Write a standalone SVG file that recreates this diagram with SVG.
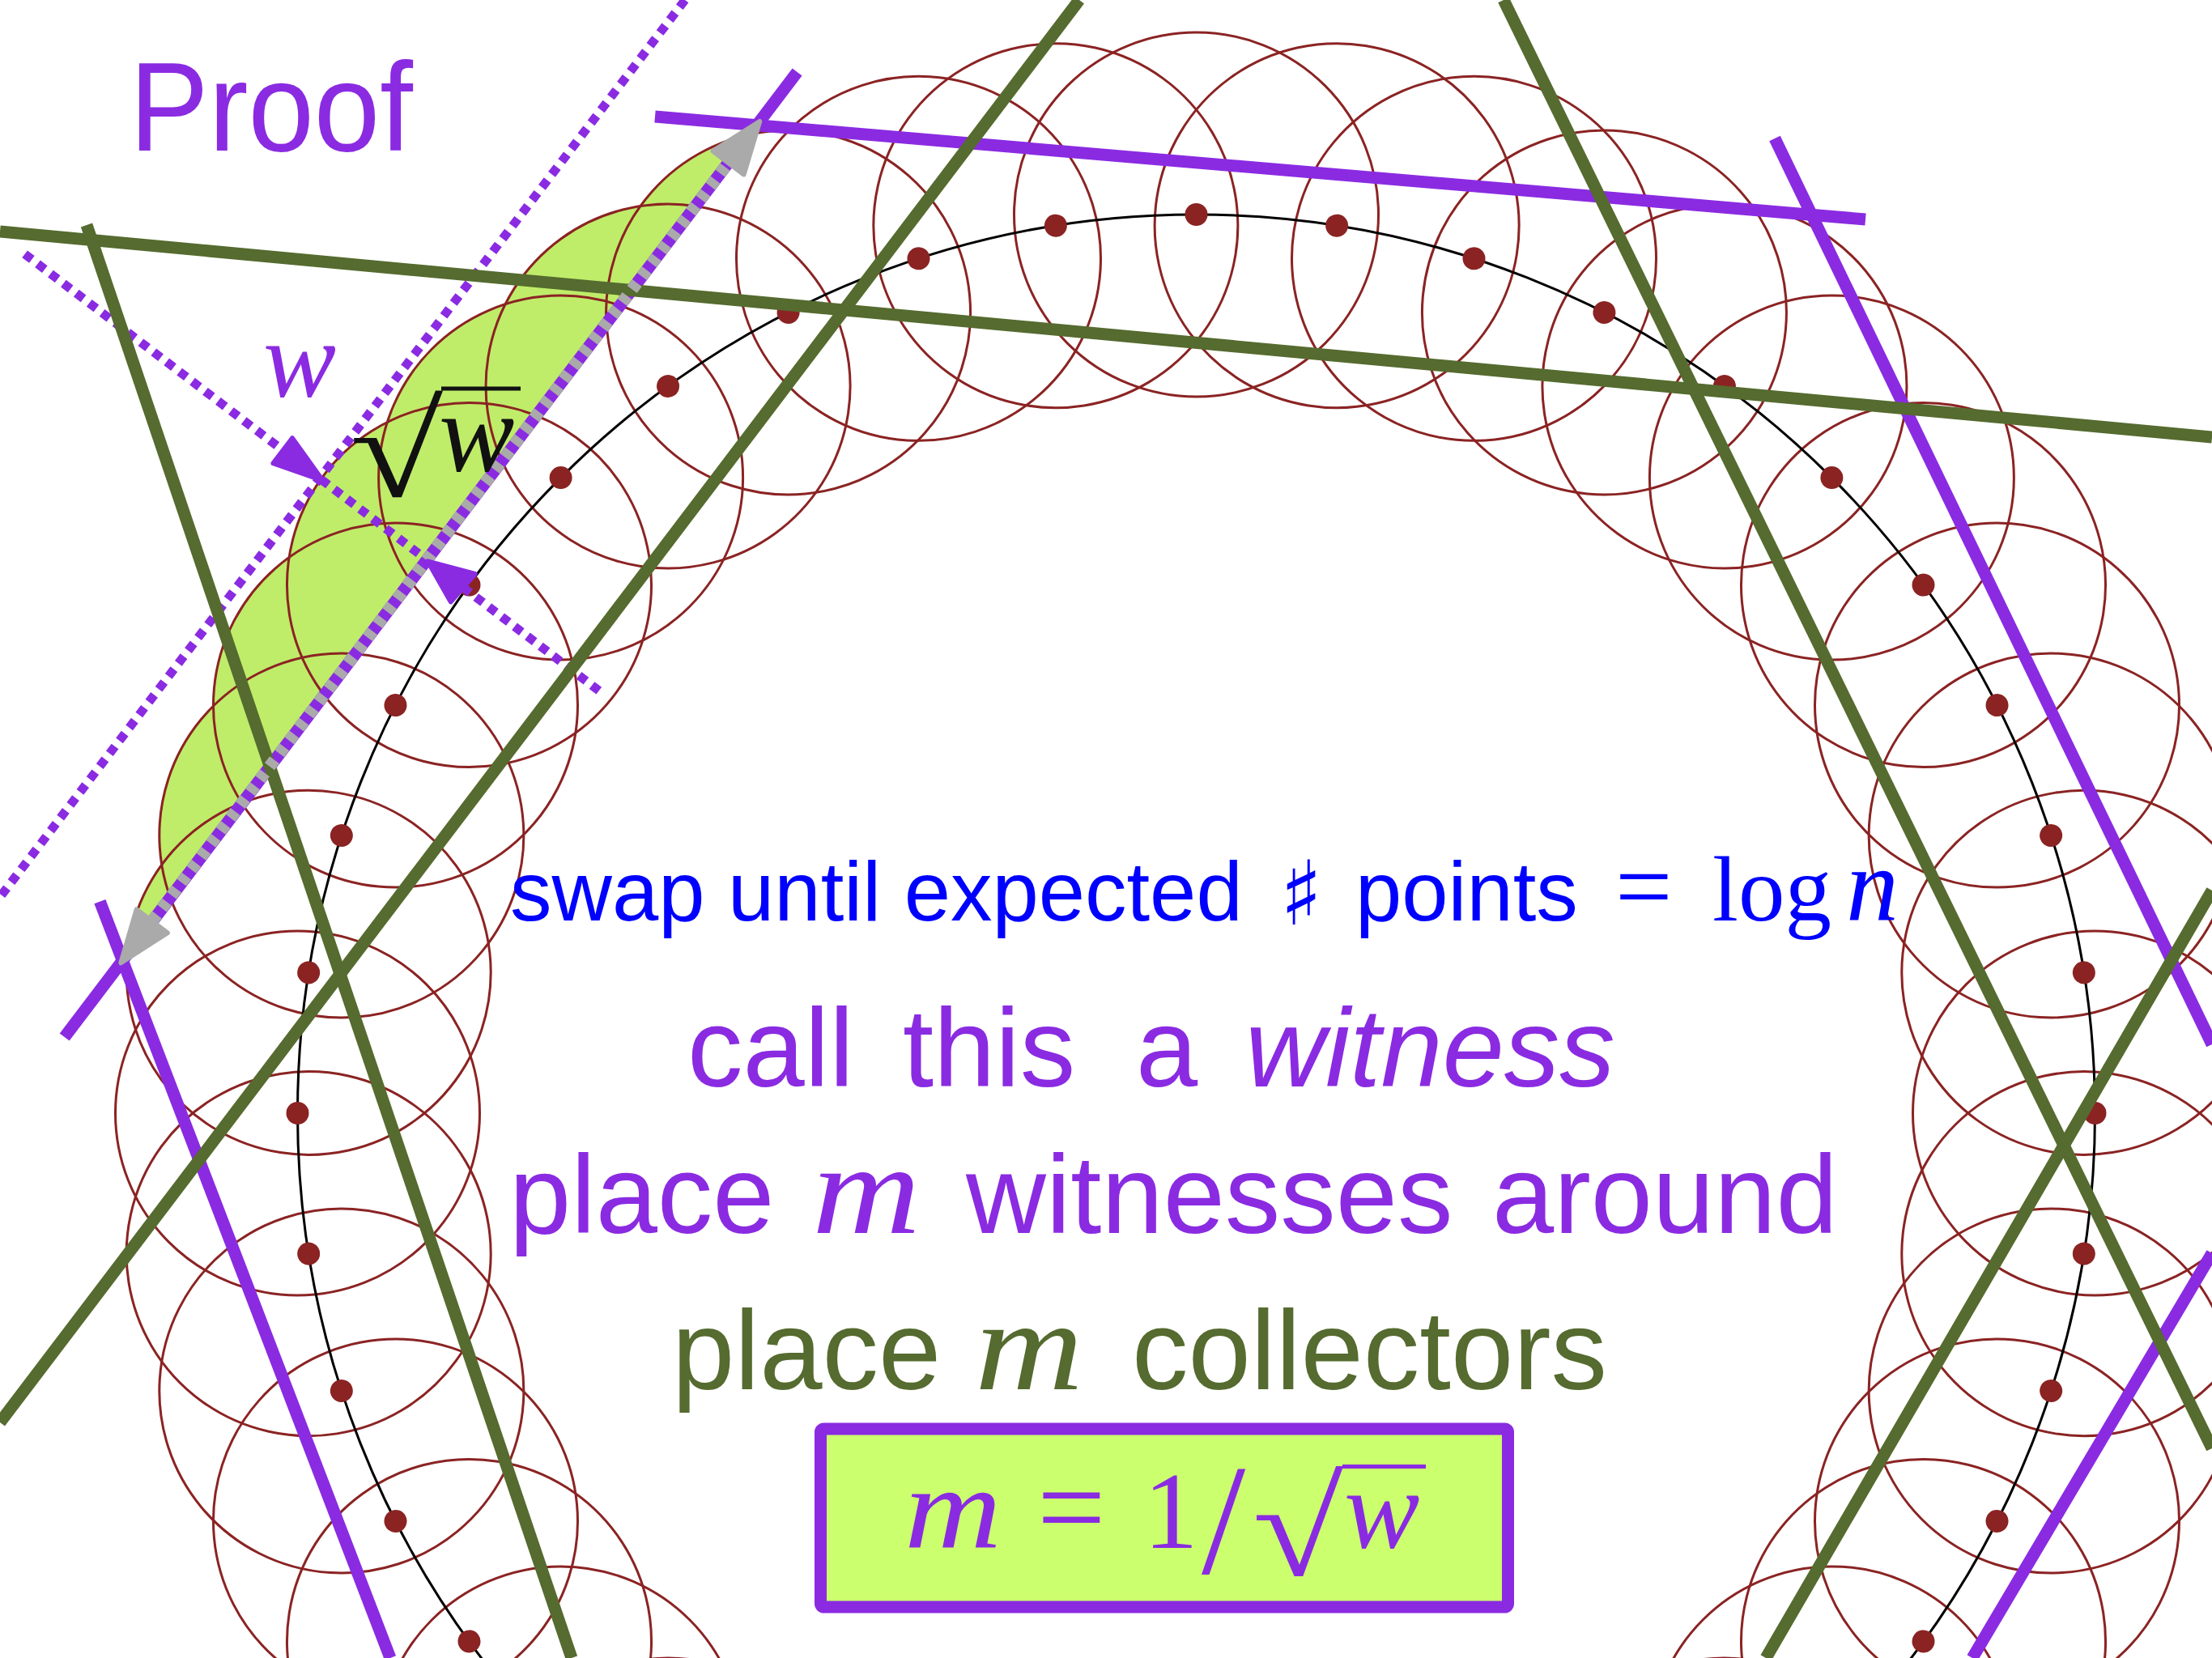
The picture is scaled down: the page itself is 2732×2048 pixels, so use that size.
<svg xmlns="http://www.w3.org/2000/svg" xmlns:xlink="http://www.w3.org/1999/xlink" width="2732" height="2048" viewBox="0 0 2732 2048">
<style>
.ring{fill:none;stroke:#8b2323;stroke-width:3}
.dot{fill:#8b2323}
.gf{fill:#bfed6a}
.ol{stroke:#556b2f;stroke-width:15;fill:none}
.pu{stroke:#8a2be2;stroke-width:15;fill:none}
.pd{stroke:#8a2be2;stroke-width:11;stroke-dasharray:11 9;fill:none}
.sans{font-family:"Liberation Sans",Arial,sans-serif}
.ser{font-family:"Liberation Serif","Times New Roman",serif}
.it{font-style:italic}
</style>
<defs>
<clipPath id="half"><polygon points="-1060,2782 2147,-1443 -242,-3257 -3449,968"/></clipPath>
<circle id="sc" cx="1477.5" cy="265" r="225"/>
<circle id="sd" cx="1477.5" cy="265" r="14"/>
</defs>
<rect width="2732" height="2048" fill="#ffffff"/>
<g id="witness-fill" clip-path="url(#half)" class="gf">
<use xlink:href="#sc" transform="rotate(-18 1477.5 1375)"/>
<use xlink:href="#sc" transform="rotate(-27 1477.5 1375)"/>
<use xlink:href="#sc" transform="rotate(-36 1477.5 1375)"/>
<use xlink:href="#sc" transform="rotate(-45 1477.5 1375)"/>
<use xlink:href="#sc" transform="rotate(-54 1477.5 1375)"/>
<use xlink:href="#sc" transform="rotate(-63 1477.5 1375)"/>
<use xlink:href="#sc" transform="rotate(-72 1477.5 1375)"/>
<use xlink:href="#sc" transform="rotate(-81 1477.5 1375)"/>
<use xlink:href="#sc" transform="rotate(-90 1477.5 1375)"/>
</g>
<g id="rings" class="ring">
<use xlink:href="#sc" transform="rotate(0 1477.5 1375)"/>
<use xlink:href="#sc" transform="rotate(9 1477.5 1375)"/>
<use xlink:href="#sc" transform="rotate(18 1477.5 1375)"/>
<use xlink:href="#sc" transform="rotate(27 1477.5 1375)"/>
<use xlink:href="#sc" transform="rotate(36 1477.5 1375)"/>
<use xlink:href="#sc" transform="rotate(45 1477.5 1375)"/>
<use xlink:href="#sc" transform="rotate(54 1477.5 1375)"/>
<use xlink:href="#sc" transform="rotate(63 1477.5 1375)"/>
<use xlink:href="#sc" transform="rotate(72 1477.5 1375)"/>
<use xlink:href="#sc" transform="rotate(81 1477.5 1375)"/>
<use xlink:href="#sc" transform="rotate(90 1477.5 1375)"/>
<use xlink:href="#sc" transform="rotate(99 1477.5 1375)"/>
<use xlink:href="#sc" transform="rotate(108 1477.5 1375)"/>
<use xlink:href="#sc" transform="rotate(117 1477.5 1375)"/>
<use xlink:href="#sc" transform="rotate(126 1477.5 1375)"/>
<use xlink:href="#sc" transform="rotate(135 1477.5 1375)"/>
<use xlink:href="#sc" transform="rotate(144 1477.5 1375)"/>
<use xlink:href="#sc" transform="rotate(153 1477.5 1375)"/>
<use xlink:href="#sc" transform="rotate(162 1477.5 1375)"/>
<use xlink:href="#sc" transform="rotate(171 1477.5 1375)"/>
<use xlink:href="#sc" transform="rotate(180 1477.5 1375)"/>
<use xlink:href="#sc" transform="rotate(189 1477.5 1375)"/>
<use xlink:href="#sc" transform="rotate(198 1477.5 1375)"/>
<use xlink:href="#sc" transform="rotate(207 1477.5 1375)"/>
<use xlink:href="#sc" transform="rotate(216 1477.5 1375)"/>
<use xlink:href="#sc" transform="rotate(225 1477.5 1375)"/>
<use xlink:href="#sc" transform="rotate(234 1477.5 1375)"/>
<use xlink:href="#sc" transform="rotate(243 1477.5 1375)"/>
<use xlink:href="#sc" transform="rotate(252 1477.5 1375)"/>
<use xlink:href="#sc" transform="rotate(261 1477.5 1375)"/>
<use xlink:href="#sc" transform="rotate(270 1477.5 1375)"/>
<use xlink:href="#sc" transform="rotate(279 1477.5 1375)"/>
<use xlink:href="#sc" transform="rotate(288 1477.5 1375)"/>
<use xlink:href="#sc" transform="rotate(297 1477.5 1375)"/>
<use xlink:href="#sc" transform="rotate(306 1477.5 1375)"/>
<use xlink:href="#sc" transform="rotate(315 1477.5 1375)"/>
<use xlink:href="#sc" transform="rotate(324 1477.5 1375)"/>
<use xlink:href="#sc" transform="rotate(333 1477.5 1375)"/>
<use xlink:href="#sc" transform="rotate(342 1477.5 1375)"/>
<use xlink:href="#sc" transform="rotate(351 1477.5 1375)"/>
</g>
<circle id="track" cx="1477.5" cy="1375" r="1110" fill="none" stroke="#000000" stroke-width="3"/>
<g id="dots" class="dot">
<use xlink:href="#sd" transform="rotate(0 1477.5 1375)"/>
<use xlink:href="#sd" transform="rotate(9 1477.5 1375)"/>
<use xlink:href="#sd" transform="rotate(18 1477.5 1375)"/>
<use xlink:href="#sd" transform="rotate(27 1477.5 1375)"/>
<use xlink:href="#sd" transform="rotate(36 1477.5 1375)"/>
<use xlink:href="#sd" transform="rotate(45 1477.5 1375)"/>
<use xlink:href="#sd" transform="rotate(54 1477.5 1375)"/>
<use xlink:href="#sd" transform="rotate(63 1477.5 1375)"/>
<use xlink:href="#sd" transform="rotate(72 1477.5 1375)"/>
<use xlink:href="#sd" transform="rotate(81 1477.5 1375)"/>
<use xlink:href="#sd" transform="rotate(90 1477.5 1375)"/>
<use xlink:href="#sd" transform="rotate(99 1477.5 1375)"/>
<use xlink:href="#sd" transform="rotate(108 1477.5 1375)"/>
<use xlink:href="#sd" transform="rotate(117 1477.5 1375)"/>
<use xlink:href="#sd" transform="rotate(126 1477.5 1375)"/>
<use xlink:href="#sd" transform="rotate(135 1477.5 1375)"/>
<use xlink:href="#sd" transform="rotate(144 1477.5 1375)"/>
<use xlink:href="#sd" transform="rotate(216 1477.5 1375)"/>
<use xlink:href="#sd" transform="rotate(225 1477.5 1375)"/>
<use xlink:href="#sd" transform="rotate(234 1477.5 1375)"/>
<use xlink:href="#sd" transform="rotate(243 1477.5 1375)"/>
<use xlink:href="#sd" transform="rotate(252 1477.5 1375)"/>
<use xlink:href="#sd" transform="rotate(261 1477.5 1375)"/>
<use xlink:href="#sd" transform="rotate(270 1477.5 1375)"/>
<use xlink:href="#sd" transform="rotate(279 1477.5 1375)"/>
<use xlink:href="#sd" transform="rotate(288 1477.5 1375)"/>
<use xlink:href="#sd" transform="rotate(297 1477.5 1375)"/>
<use xlink:href="#sd" transform="rotate(306 1477.5 1375)"/>
<use xlink:href="#sd" transform="rotate(315 1477.5 1375)"/>
<use xlink:href="#sd" transform="rotate(324 1477.5 1375)"/>
<use xlink:href="#sd" transform="rotate(333 1477.5 1375)"/>
<use xlink:href="#sd" transform="rotate(342 1477.5 1375)"/>
<use xlink:href="#sd" transform="rotate(351 1477.5 1375)"/>
</g>
<g id="connectors">
<line class="pd" x1="846" y1="0" x2="0" y2="1108"/>
<line class="pd" x1="30.6" y1="313.8" x2="740.5" y2="853.7"/>
<line class="pu" x1="809" y1="144" x2="2304" y2="271"/>
<line class="pu" x1="2192" y1="171" x2="2732" y2="1290"/>
<line class="pu" x1="123.4" y1="1113.6" x2="482" y2="2048"/>
<line class="pu" x1="79.7" y1="1281" x2="984.6" y2="89"/>
<line class="pu" x1="2732" y1="1548" x2="2436" y2="2048"/>
<line class="ol" x1="0" y1="286" x2="2732" y2="540"/>
<line class="ol" x1="107" y1="278" x2="706" y2="2048"/>
<line class="ol" x1="1333" y1="0" x2="0" y2="1757"/>
<line class="ol" x1="1857" y1="0" x2="2732" y2="1789"/>
<line class="ol" x1="2732" y1="1100" x2="2181" y2="2048"/>
<line x1="187.8" y1="1137.8" x2="899.6" y2="201" stroke="#aaaaaa" stroke-width="15" stroke-dasharray="10 10"/>
<polygon points="149.3,1189.3 168.7,1123.3 206.9,1152.3" fill="#aaaaaa" stroke="#aaaaaa" stroke-width="6" stroke-linejoin="round"/>
<polygon points="938.3,150 918.7,215.5 880.5,186.5" fill="#aaaaaa" stroke="#aaaaaa" stroke-width="6" stroke-linejoin="round"/>
<polygon points="398.3,593.3 337.4,572.2 361,541.2" fill="#8a2be2" stroke="#8a2be2" stroke-width="6" stroke-linejoin="round"/>
<polygon points="528.3,693.3 556.7,743.3 586.7,709" fill="#8a2be2" stroke="#8a2be2" stroke-width="6" stroke-linejoin="round"/>
</g>
<g id="labels">
<text class="sans" x="160" y="186" font-size="156" fill="#8a2be2" textLength="350" lengthAdjust="spacingAndGlyphs">Proof</text>
<text class="ser it" x="325" y="490" font-size="135" fill="#8a2be2">w</text>
<text class="ser" font-size="150" fill="#111111" transform="translate(432 613) scale(1.4 1.1)">√</text>
<line x1="545" y1="480" x2="643" y2="480" stroke="#111111" stroke-width="5"/>
<text class="ser it" x="542" y="582" font-size="140" fill="#111111">w</text>
</g>
<g id="text-lines">
<text class="sans" x="630" y="1137" font-size="103" fill="#0000ff">swap until expected</text>
<text x="1607" y="1142" font-family="DejaVu Sans" font-size="110" fill="#0000ff" text-anchor="middle">♯</text>
<text class="sans" x="1674" y="1137" font-size="103" fill="#0000ff">points</text>
<text class="ser" x="1995" y="1137" font-size="125" fill="#0000ff">=</text>
<text class="ser" x="2115" y="1137" font-size="115" fill="#0000ff">log</text>
<text class="ser it" x="2280" y="1137" font-size="130" fill="#0000ff">n</text>
<text class="sans" y="1342" font-size="137" fill="#8a2be2"><tspan x="849">call</tspan><tspan x="1115">this</tspan><tspan x="1403">a</tspan><tspan x="1538" class="it">witness</tspan></text>
<text class="sans" y="1523" font-size="137" fill="#8a2be2"><tspan x="629">place</tspan><tspan x="1193">witnesses</tspan><tspan x="1843">around</tspan></text>
<text class="ser it" x="1003" y="1523" font-size="158" fill="#8a2be2" textLength="134" lengthAdjust="spacingAndGlyphs">m</text>
<text class="sans" y="1716" font-size="139" fill="#556b2f"><tspan x="830">place</tspan><tspan x="1398">collectors</tspan></text>
<text class="ser it" x="1204" y="1716" font-size="158" fill="#556b2f" textLength="134" lengthAdjust="spacingAndGlyphs">m</text>
</g>
<g id="formula-box">
<rect x="1013.5" y="1765" width="849" height="220" rx="4" fill="#ccff6e" stroke="#8a2be2" stroke-width="15"/>
<text class="ser it" x="1117" y="1912" font-size="145" fill="#8a2be2" textLength="120" lengthAdjust="spacingAndGlyphs">m</text>
<text class="ser" x="1281" y="1912" font-size="150" fill="#8a2be2">=</text>
<text class="ser" x="1446" y="1912" font-size="135" fill="#8a2be2" text-anchor="middle">1</text>
<text class="ser" x="1511" y="1943" font-size="195" fill="#8a2be2" text-anchor="middle">/</text>
<text class="ser" font-size="155" fill="#8a2be2" transform="translate(1547 1946) scale(1.32 1.1)">√</text>
<line x1="1658" y1="1811.5" x2="1761" y2="1811.5" stroke="#8a2be2" stroke-width="5"/>
<text class="ser it" x="1660" y="1912" font-size="140" fill="#8a2be2">w</text>
</g>
</svg>
